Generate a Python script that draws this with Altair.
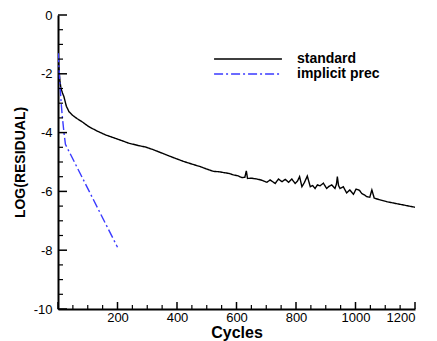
import altair as alt
import pandas as pd

# ---- data ----
std_cycles = [1, 3, 6, 10, 15, 20, 28, 37, 50, 65, 82, 104, 130, 160, 200, 238, 270, 294,
              320, 350, 380, 422, 450, 479, 500, 523, 540, 557, 575, 590, 605, 618, 628,
              633, 637, 650, 669, 685, 702, 713, 730, 741, 753, 764, 775, 786, 797, 805,
              812, 820, 828, 838, 848, 856, 864, 872, 881, 892, 903, 912, 920, 931, 936,
              939, 943, 948, 959, 970, 981, 993, 1002, 1013, 1021, 1030, 1038, 1048, 1055,
              1063, 1080, 1105, 1130, 1150, 1175, 1200]
std_values = [-1.4, -1.8, -2.2, -2.5, -2.65, -2.78, -3.1, -3.29, -3.42, -3.53, -3.64, -3.8,
              -3.94, -4.08, -4.22, -4.36, -4.44, -4.49, -4.58, -4.7, -4.82, -4.98, -5.07,
              -5.16, -5.24, -5.32, -5.33, -5.36, -5.39, -5.44, -5.47, -5.53, -5.52, -5.3,
              -5.56, -5.55, -5.58, -5.62, -5.69, -5.61, -5.73, -5.58, -5.67, -5.59, -5.69,
              -5.58, -5.73, -5.65, -5.5, -5.84, -5.7, -5.48, -5.84, -5.8, -5.9, -5.78,
              -5.81, -5.72, -5.9, -5.82, -5.78, -5.9, -5.75, -5.5, -5.8, -5.9, -5.84,
              -6.05, -5.95, -6.1, -5.92, -5.96, -6.07, -6.12, -6.18, -6.2, -5.95, -6.23,
              -6.28, -6.35, -6.4, -6.44, -6.49, -6.54]
imp_cycles = [1, 5, 10, 14, 20, 25, 200]
imp_values = [-1.3, -2.1, -2.9, -3.4, -4.0, -4.4, -7.9]

series_names = ["standard", "implicit prec"]

x_major = [0, 200, 400, 600, 800, 1000, 1200]
x_minor = [50, 100, 150, 250, 300, 350, 450, 500, 550, 650, 700, 750, 850, 900, 950,
           1050, 1100, 1150]
y_major = [0, -2, -4, -6, -8, -10]
y_minor = [-0.5, -1, -1.5, -2.5, -3, -3.5, -4.5, -5, -5.5, -6.5, -7, -7.5, -8.5, -9, -9.5]

# ---- tables ----
df = pd.concat([
    pd.DataFrame({"cycle": std_cycles, "log": std_values, "series": series_names[0]}),
    pd.DataFrame({"cycle": imp_cycles, "log": imp_values, "series": series_names[1]}),
])

W, H = 357, 294
FONT = "Liberation Sans"

xs = alt.Scale(domain=[0, 1200], nice=False, zero=False)
ys = alt.Scale(domain=[-10, 0], nice=False, zero=False)

lines = alt.Chart(df).mark_line(strokeWidth=1.4, clip=True).encode(
    x=alt.X("cycle:Q", scale=xs,
            axis=alt.Axis(title="Cycles", values=x_major[1:], grid=False, ticks=False,
                          domainColor="black", domainWidth=2, labelFontSize=13,
                          labelColor="black", labelFont=FONT, labelPadding=2,
                          labelExpr="'' + datum.value",
                          titleFont=FONT, titleFontSize=16, titleFontWeight="bold",
                          titleColor="black", titlePadding=0)),
    y=alt.Y("log:Q", scale=ys,
            axis=alt.Axis(title="LOG(RESIDUAL)", values=y_major, grid=False, ticks=False,
                          domainColor="black", domainWidth=2, labelFontSize=13,
                          labelColor="black", labelFont=FONT, labelPadding=6,
                          labelExpr="'' + datum.value",
                          titleFont=FONT, titleFontSize=14, titleFontWeight="bold",
                          titleColor="black", titlePadding=6)),
    color=alt.Color("series:N",
                    scale=alt.Scale(domain=series_names, range=["black", "#3a3aff"]),
                    legend=alt.Legend(title=None, orient="none", legendX=183, legendY=37,
                                      symbolType="M-7,0L7,0", symbolSize=94,
                                      symbolStrokeWidth=1.5, labelOffset=42,
                                      labelFont=FONT, labelFontSize=14,
                                      labelFontWeight="bold", labelColor="black",
                                      rowPadding=1, padding=0)),
    strokeDash=alt.StrokeDash("series:N",
                              scale=alt.Scale(domain=series_names,
                                              range=[[1, 0], [9, 3, 2, 3]]),
                              legend=alt.Legend(title=None, orient="none", legendX=183,
                                                legendY=37)),
    order=alt.Order("cycle:Q"),
)

ymaj_df = pd.DataFrame({"log": y_major})
ymin_df = pd.DataFrame({"log": y_minor})
xmaj_df = pd.DataFrame({"cycle": x_major})
xmin_df = pd.DataFrame({"cycle": x_minor})

ytick_major = alt.Chart(ymaj_df).mark_rule(color="black", strokeWidth=1.5).encode(
    y=alt.Y("log:Q", scale=ys), x=alt.value(0), x2=alt.value(9))
ytick_minor = alt.Chart(ymin_df).mark_rule(color="black", strokeWidth=1.2).encode(
    y=alt.Y("log:Q", scale=ys), x=alt.value(0), x2=alt.value(5))
xtick_major = alt.Chart(xmaj_df).mark_rule(color="black", strokeWidth=1.5).encode(
    x=alt.X("cycle:Q", scale=xs), y=alt.value(H), y2=alt.value(H - 7))
xtick_minor = alt.Chart(xmin_df).mark_rule(color="black", strokeWidth=1.2).encode(
    x=alt.X("cycle:Q", scale=xs), y=alt.value(H), y2=alt.value(H - 4))

chart = alt.layer(lines, ytick_major, ytick_minor, xtick_major, xtick_minor).properties(
    width=W, height=H,
    autosize=alt.AutoSizeParams(type="none"),
    padding={"left": 58, "top": 15, "right": 22, "bottom": 32},
    background="white",
).configure_view(stroke=None)

chart.save("out.html", embed_options={"renderer": "svg", "actions": False})
